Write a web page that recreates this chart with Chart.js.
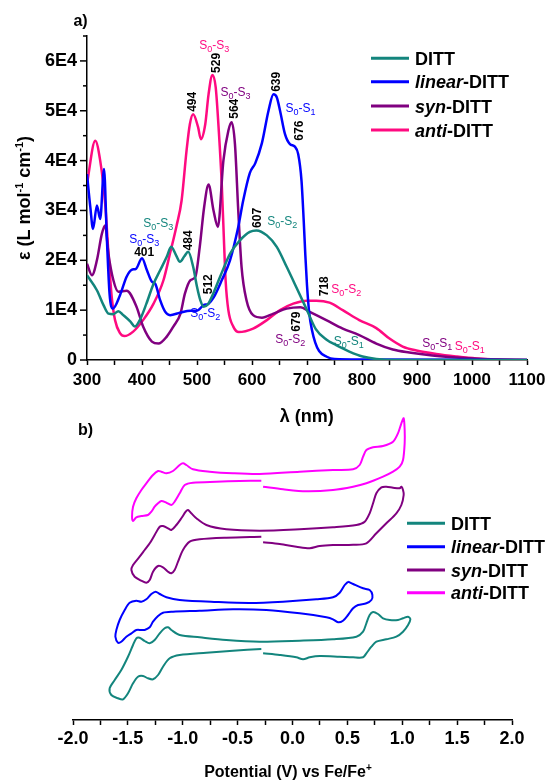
<!DOCTYPE html>
<html lang="en">
<head>
<meta charset="UTF-8" />
<title>DITT absorption spectra and cyclic voltammetry</title>
<script src="https://cdn.jsdelivr.net/npm/chart.js"></script>
<style>
  body { margin: 0; background: #fff; }
  #wrap { position: relative; width: 552px; height: 780px; }
  canvas { position: absolute; left: 0; }
  #specChart { top: 0; }
  #cvChart { top: 400px; }
</style>
</head>
<body>
<div id="wrap">
  <canvas id="specChart" width="552" height="440"></canvas>
  <canvas id="cvChart" width="552" height="380"></canvas>
</div>
<script>
// ---- a) absorption spectra (wavelength nm, epsilon L mol-1 cm-1) ----
const dittWl  = [300,318,330,339,348,357,366,379,387,396,408,421,433,445,453,462,469,477,484,493,500,506,512,520,527,542,560,578,596,608,627,645,663,681,700,716,735,753,777,801,826,860,1100];
const dittEps = [17000,14000,11000,9300,9200,9800,9000,7700,6700,8000,11300,15300,18000,20700,22700,21000,19700,20800,21700,18700,14700,12000,10700,11200,12700,16700,21300,24000,25700,26000,25000,22700,18700,14500,10000,6200,4100,3000,1700,700,200,0,0];

const linWl  = [300,306,311,318,324,331,336,341,347,360,372,381,389,400,409,418,424,433,442,451,469,488,500,512,521,530,545,560,575,584,596,606,618,630,639,645,651,660,669,678,684,690,694,697,700,704,709,715,722,735,750,800,1100];
const linEps = [37300,30700,26300,31000,28300,38300,24700,13300,10300,13000,16700,18100,18300,20400,18000,15700,15300,12000,9700,9000,9500,9900,9900,11000,11300,12500,16000,20000,26700,32000,37500,39500,43500,50000,53300,52700,50000,45300,43300,42800,41300,36000,28000,21000,15000,9500,6000,3500,1800,700,200,100,0];

const synWl  = [300,309,318,327,333,339,348,357,372,390,402,418,430,445,457,470,478,488,497,505,513,521,530,538,548,557,563,569,575,581,590,602,618,639,663,688,704,735,765,795,826,856,886,928,971,1019,1060,1100];
const synEps = [19300,17000,20000,25300,27000,21300,16000,13700,13900,10700,6700,3700,3300,4700,6700,9300,13300,16000,16700,22700,30700,35200,30000,26700,40000,46000,47700,43300,30000,18700,12000,9000,8500,9300,10300,10600,9700,8000,6300,5000,3300,2100,1500,900,500,200,50,0];

const antiWl  = [300,315,324,333,339,345,351,360,368,384,402,421,439,451,463,472,481,487,493,502,507,515,521,528,534,540,545,549,552,557,566,576,602,627,651,675,700,717,741,765,795,826,850,874,899,935,971,1008,1056,1100];
const antiEps = [35400,44000,40000,31400,21400,12600,8000,5400,4800,5700,8000,11300,16000,21400,27000,32000,42000,47300,49300,46700,44300,47300,53300,57200,54700,45300,35300,24000,16000,10000,6700,5600,6300,8000,10000,11300,11900,11900,11500,10000,8000,6400,4300,2700,1900,1200,700,300,100,0];

// transition labels: S0-Sn, placed at (wavelength, epsilon)
const transSeries = ['anti','syn','lin','ditt','ditt','lin','lin','syn','anti','ditt','syn','anti'];
const transUpper  = ['3','3','1','2','3','3','2','2','2','1','1','1'];
const transWl     = [531.5,570,688,655,429.6,404,515,669.6,771.5,776,937,996];
const transEps    = [63200,53800,50600,27800,27500,24200,9500,4200,14200,3800,3500,2800];

// peak wavelength labels
const peakText = ['529','494','564','639','676','607','484','401','512','679','718'];
const peakWl   = [535,493,569,644,687,610.5,484,404,522,681,731.5];
const peakEps  = [59600,51800,50400,55800,46000,28500,24000,21600,15200,7700,14800];
const peakRot  = [true,true,true,true,true,true,true,false,true,true,true];

// ---- b) cyclic voltammograms (potential V vs Fe/Fe+, current, offset a.u.) ----
const dittV = [-0.268,-0.117,0.035,0.096,0.157,0.248,0.430,0.552,0.643,0.673,0.719,0.764,0.855,0.946,1.007,1.053,1.074,1.053,1.007,0.961,0.886,0.825,0.779,0.734,0.703,0.673,0.643,0.582,0.369,0.066,-0.299,-0.603,-0.846,-1.028,-1.104,-1.134,-1.165,-1.210,-1.256,-1.301,-1.347,-1.393,-1.423,-1.453,-1.499,-1.560,-1.620,-1.666,-1.651,-1.590,-1.544,-1.499,-1.453,-1.408,-1.362,-1.317,-1.271,-1.225,-1.180,-1.119,-1.028,-0.785,-0.542,-0.284];
const dittI = [66.7,65,62.7,60.7,62.7,64,63.3,62.7,62.7,66.7,73.3,78.3,80.7,83.3,88.3,95,100.7,103.3,101.7,100,100,101.7,106,108,105,96.7,88.3,83.3,80.7,79.3,78.3,80,82.7,85,90,92.7,91.7,86.7,80,76.7,79,82.3,81.7,75,63.3,50,40,31.7,25,21.7,20.7,26.7,36.7,43.3,44,41.7,40.7,45,53.3,61.7,65,67.3,69.3,71];

const linV = [0.506,0.552,0.643,0.703,0.728,0.719,0.673,0.597,0.552,0.506,0.460,0.415,0.369,0.309,0.066,-0.238,-0.542,-0.846,-1.089,-1.180,-1.225,-1.271,-1.301,-1.347,-1.377,-1.423,-1.468,-1.514,-1.560,-1.590,-1.614,-1.605,-1.575,-1.529,-1.484,-1.423,-1.377,-1.332,-1.286,-1.247,-1.210,-1.149,-1.028,-0.694,-0.390,-0.086,0.217,0.369,0.430,0.476,0.506];
const linI = [138.3,136,131.7,130,125,120,116.7,115,111.7,105,99.3,97.7,100.7,102.7,106.7,110,110.7,109.3,108.3,107.3,104,98.3,92.7,90,90,90,86.7,83.3,78.3,77.3,83.3,90,100,110,117.3,119.3,118.3,120.7,126,128.3,126,122.7,120,118,117,118.3,120.7,122.7,127.3,135,138.3];

const synV = [-0.268,-0.117,0.035,0.157,0.248,0.369,0.552,0.673,0.764,0.855,0.946,0.992,1.013,1.007,0.992,0.977,0.916,0.855,0.810,0.764,0.734,0.703,0.658,0.582,0.369,0.066,-0.299,-0.603,-0.785,-0.876,-0.922,-0.952,-0.973,-1.013,-1.058,-1.104,-1.134,-1.180,-1.210,-1.256,-1.301,-1.347,-1.393,-1.453,-1.468,-1.438,-1.377,-1.332,-1.301,-1.271,-1.225,-1.180,-1.134,-1.104,-1.074,-1.043,-0.998,-0.937,-0.846,-0.603,-0.284];
const synI = [177.7,176,173.3,171.7,174,175,175.3,176.7,186.7,196.7,206.7,215,225,230,233.3,231.7,232.3,233.3,232.7,226.7,216.7,206.7,198.3,195,192.7,190.7,189.3,190.7,195,201.7,206.7,210,208.3,201.7,195,190,191.7,194,193.3,185,176.7,170,163.3,155,150,143.3,139.3,137.3,140,148.3,154,152.7,148.3,146.7,150,158.3,170,178.3,180.7,182.3,183.3];

const antiV = [-0.268,-0.086,0.126,0.369,0.552,0.673,0.825,0.916,0.977,1.007,1.022,1.022,1.013,0.992,0.961,0.916,0.825,0.734,0.673,0.643,0.612,0.552,0.369,0.066,-0.299,-0.542,-0.755,-0.907,-0.967,-0.998,-1.028,-1.089,-1.149,-1.195,-1.225,-1.271,-1.332,-1.377,-1.423,-1.453,-1.462,-1.453,-1.423,-1.377,-1.317,-1.286,-1.256,-1.225,-1.195,-1.149,-1.104,-1.074,-1.028,-0.982,-0.907,-0.694,-0.481,-0.284];
const antiI = [233.3,230.7,228.7,230,233.3,236.7,243.3,248.3,253.3,260,276.7,290,301.7,296.7,286.7,278.3,274,272.7,270,263.3,255,250.7,250,248.3,246,246.7,248.3,250.7,255,256.7,255,249,246.7,248.3,249,245,236.7,230,221.7,213.3,203.3,199,202.7,204,205,208.3,213.3,216.7,219,217.3,215,218.3,226.7,235,237.3,238.3,239,239.3];

const colors = { ditt: '#13857d', lin: '#0000ff', syn: '#800080', anti: '#ff0a80', antiCV: '#ff00ff' };
const FONT = "'Liberation Sans', Arial, sans-serif";
Chart.defaults.font.family = FONT;
Chart.defaults.color = '#000';

function pts(xs, ys) { return xs.map((x, i) => ({ x: x, y: ys[i] })); }

// draw a run of text pieces with their own font / vertical shift
function richWidth(ctx, parts) {
  let w = 0;
  parts.forEach(p => { ctx.font = p.font; w += ctx.measureText(p.t).width; });
  return w;
}
function drawRich(ctx, parts, x, y, center) {
  let cx = center ? x - richWidth(ctx, parts) / 2 : x;
  ctx.textAlign = 'left';
  ctx.textBaseline = 'alphabetic';
  parts.forEach(p => {
    ctx.font = p.font;
    ctx.fillText(p.t, cx, y + (p.dy || 0));
    cx += ctx.measureText(p.t).width;
  });
}
const B18 = 'bold 18px ' + FONT, BI18 = 'italic bold 18px ' + FONT;
const legendParts = [
  [{ t: 'DITT', font: B18 }],
  [{ t: 'linear', font: BI18 }, { t: '-DITT', font: B18 }],
  [{ t: 'syn', font: BI18 }, { t: '-DITT', font: B18 }],
  [{ t: 'anti', font: BI18 }, { t: '-DITT', font: B18 }]
];
function drawLegend(ctx, cols, x0, x1, tx, ys) {
  cols.forEach((c, i) => {
    ctx.strokeStyle = c; ctx.lineWidth = 3;
    ctx.beginPath(); ctx.moveTo(x0, ys[i]); ctx.lineTo(x1, ys[i]); ctx.stroke();
    ctx.fillStyle = '#000';
    drawRich(ctx, legendParts[i], tx, ys[i] + 6.5, false);
  });
}

const specDecor = {
  id: 'specDecor',
  afterDraw(chart) {
    const ctx = chart.ctx, xs = chart.scales.x, ys = chart.scales.y;
    ctx.save();
    // y ticks: long for labelled, short for minor
    ctx.strokeStyle = '#000'; ctx.lineWidth = 1.5;
    ys.ticks.forEach(t => {
      const py = ys.getPixelForValue(t.value);
      const len = t.value % 10000 === 0 ? 7 : 4;
      ctx.beginPath(); ctx.moveTo(xs.left - len, py); ctx.lineTo(xs.left, py); ctx.stroke();
    });
    // axis titles and panel tag
    ctx.fillStyle = '#000';
    ctx.font = 'bold 16px ' + FONT; ctx.textAlign = 'center'; ctx.textBaseline = 'middle';
    ctx.fillText('a)', 80.5, 21.5);
    ctx.font = 'bold 18px ' + FONT;
    ctx.fillText('\u03bb (nm)', 306.7, 417.5);
    ctx.save();
    ctx.translate(23, 198); ctx.rotate(-Math.PI / 2);
    const sup = 'bold 11px ' + FONT;
    drawRich(ctx, [
      { t: '\u03b5 (L mol', font: B18 }, { t: '-1', font: sup, dy: -7 },
      { t: ' cm', font: B18 }, { t: '-1', font: sup, dy: -7 }, { t: ')', font: B18 }
    ], 0, 6.5, true);
    ctx.restore();
    // transition labels
    transSeries.forEach((s, i) => {
      const px = xs.getPixelForValue(transWl[i]), py = ys.getPixelForValue(transEps[i]);
      ctx.fillStyle = colors[s];
      const big = '12px ' + FONT, small = '9px ' + FONT;
      drawRich(ctx, [
        { t: 'S', font: big }, { t: '0', font: small, dy: 3 }, { t: '-', font: big },
        { t: 'S', font: big }, { t: transUpper[i], font: small, dy: 3 }
      ], px, py + 4, true);
    });
    // peak labels
    ctx.fillStyle = '#000';
    ctx.font = 'bold 12px ' + FONT;
    ctx.textAlign = 'center'; ctx.textBaseline = 'middle';
    peakText.forEach((t, i) => {
      const px = xs.getPixelForValue(peakWl[i]), py = ys.getPixelForValue(peakEps[i]);
      ctx.save(); ctx.translate(px, py);
      if (peakRot[i]) ctx.rotate(-Math.PI / 2);
      ctx.fillText(t, 0, 0);
      ctx.restore();
    });
    drawLegend(ctx, [colors.ditt, colors.lin, colors.syn, colors.anti], 371, 409, 415, [58.3, 81.7, 106, 130]);
    ctx.restore();
  }
};

const cvDecor = {
  id: 'cvDecor',
  afterDraw(chart) {
    const ctx = chart.ctx;
    ctx.save();
    ctx.fillStyle = '#000';
    ctx.font = 'bold 16px ' + FONT; ctx.textAlign = 'center'; ctx.textBaseline = 'middle';
    ctx.fillText('b)', 85.5, 30.5);
    const f16 = 'bold 16px ' + FONT;
    drawRich(ctx, [{ t: 'Potential (V) vs Fe/Fe', font: f16 }, { t: '+', font: 'bold 10px ' + FONT, dy: -6 }], 288, 376.5, true);
    drawLegend(ctx, [colors.ditt, colors.lin, colors.syn, colors.antiCV], 407, 445, 451, [123.3, 146.7, 170, 192.7]);
    ctx.restore();
  }
};

function specSet(wl, eps, c) {
  return { data: pts(wl, eps), borderColor: c, borderWidth: 2.5, pointRadius: 0,
           cubicInterpolationMode: 'monotone', fill: false };
}
function cvSet(v, i, c) {
  return { data: pts(v, i), borderColor: c, borderWidth: 2, pointRadius: 0,
           showLine: true, tension: 0.3, fill: false };
}

new Chart(document.getElementById('specChart'), {
  type: 'line',
  data: {
    datasets: [
      specSet(dittWl, dittEps, colors.ditt),
      specSet(linWl, linEps, colors.lin),
      specSet(synWl, synEps, colors.syn),
      specSet(antiWl, antiEps, colors.anti)
    ]
  },
  options: {
    responsive: false, animation: false, devicePixelRatio: 1,
    layout: { padding: { left: 0, right: 25, top: 36, bottom: 0 } },
    plugins: { legend: { display: false }, tooltip: { enabled: false } },
    scales: {
      x: {
        type: 'linear', min: 300, max: 1100,
        afterFit: s => { s.height = 80; },
        border: { display: true, color: '#000', width: 1.5 },
        grid: { display: true, drawOnChartArea: false, drawTicks: true, tickLength: 5, color: '#000', tickWidth: 1.5 },
        ticks: { stepSize: 50, autoSkip: false, maxRotation: 0, padding: 5,
                 font: { size: 17, weight: 'bold' },
                 callback: v => (v % 100 === 0 ? String(v) : '') }
      },
      y: {
        min: 0, max: 65000,
        afterFit: s => { s.width = 87; },
        border: { display: true, color: '#000', width: 1.5 },
        grid: { display: false, drawTicks: false },
        ticks: { stepSize: 5000, autoSkip: false, padding: 10,
                 font: { size: 18, weight: 'bold' },
                 callback: v => (v % 10000 === 0 ? (v === 0 ? '0' : (v / 10000) + 'E4') : '') }
      }
    }
  },
  plugins: [specDecor]
});

new Chart(document.getElementById('cvChart'), {
  type: 'scatter',
  data: {
    datasets: [
      cvSet(dittV, dittI, colors.ditt),
      cvSet(linV, linI, colors.lin),
      cvSet(synV, synI, colors.syn),
      cvSet(antiV, antiI, colors.antiCV)
    ]
  },
  options: {
    responsive: false, animation: false, devicePixelRatio: 1,
    layout: { padding: { left: 73, right: 40, top: 5, bottom: 0 } },
    plugins: { legend: { display: false }, tooltip: { enabled: false } },
    scales: {
      x: {
        type: 'linear', min: -2, max: 2,
        afterFit: s => { s.height = 60; },
        border: { display: true, color: '#000', width: 1.5 },
        grid: { display: true, drawOnChartArea: false, drawTicks: true, tickLength: 5, color: '#000', tickWidth: 1.5 },
        ticks: { stepSize: 0.25, autoSkip: false, maxRotation: 0, padding: 3,
                 font: { size: 18, weight: 'bold' },
                 callback: v => (Math.abs(v * 2 - Math.round(v * 2)) < 1e-6 ? v.toFixed(1) : '') }
      },
      y: { display: false, min: 0, max: 315 }
    }
  },
  plugins: [cvDecor]
});
</script>
</body>
</html>
